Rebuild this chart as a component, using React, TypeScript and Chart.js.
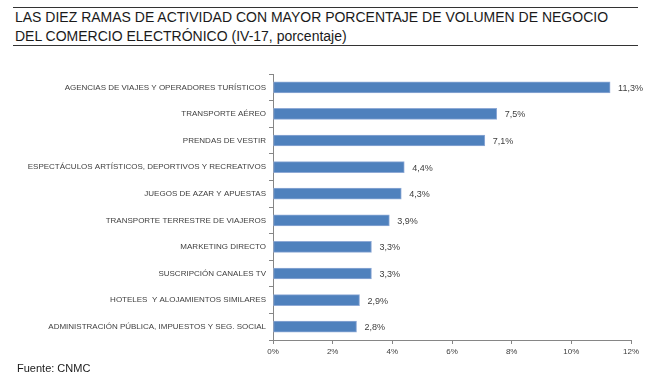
import React, { useEffect, useRef } from "react";
import { Chart, registerables } from "chart.js";

Chart.register(...registerables);

const categories = [
  "AGENCIAS DE VIAJES Y OPERADORES TURÍSTICOS",
  "TRANSPORTE AÉREO",
  "PRENDAS DE VESTIR",
  "ESPECTÁCULOS ARTÍSTICOS, DEPORTIVOS Y RECREATIVOS",
  "JUEGOS DE AZAR Y APUESTAS",
  "TRANSPORTE TERRESTRE DE VIAJEROS",
  "MARKETING DIRECTO",
  "SUSCRIPCIÓN CANALES TV",
  "HOTELES  Y ALOJAMIENTOS SIMILARES",
  "ADMINISTRACIÓN PÚBLICA, IMPUESTOS Y SEG. SOCIAL",
];
const values = [11.3, 7.5, 7.1, 4.4, 4.3, 3.9, 3.3, 3.3, 2.9, 2.8];
const xMin = 0;
const xMax = 12;
const xStep = 2;
const titleLines = [
  "LAS DIEZ RAMAS DE ACTIVIDAD CON MAYOR PORCENTAJE DE VOLUMEN DE NEGOCIO",
  "DEL COMERCIO ELECTRÓNICO (IV-17, porcentaje)",
];
const sourceText = "Fuente: CNMC";

const FONT = "'Liberation Sans', Arial, sans-serif";
const AXIS = "#868686";
const TEXT = "#404040";

const fmt = (v: number) => v.toFixed(1).replace(".", ",") + "%";

const valueLabels = {
  id: "valueLabels",
  afterDatasetsDraw(chart: any) {
    const ctx = chart.ctx;
    const meta = chart.getDatasetMeta(0);
    ctx.save();
    ctx.font = `9px ${FONT}`;
    ctx.fillStyle = TEXT;
    ctx.textAlign = "left";
    ctx.textBaseline = "middle";
    meta.data.forEach((bar: any, i: number) => {
      ctx.fillText(fmt(values[i]), bar.x + 8, bar.y + 1);
    });
    ctx.restore();
  },
};

export default function App() {
  const ref = useRef<HTMLCanvasElement | null>(null);

  useEffect(() => {
    if (!ref.current) return;
    const chart = new Chart(ref.current, {
      type: "bar",
      data: {
        labels: categories,
        datasets: [
          {
            data: values,
            backgroundColor: "#4F81BD",
            borderColor: "#8FAAD6",
            borderWidth: 1,
            borderSkipped: false,
            barThickness: 11,
          },
        ],
      },
      options: {
        indexAxis: "y",
        responsive: false,
        animation: false,
        devicePixelRatio: 1,
        layout: { padding: { top: 74, right: 19, bottom: 17, left: 0 } },
        plugins: {
          legend: { display: false },
          tooltip: { enabled: false },
          title: { display: false },
        },
        scales: {
          x: {
            min: xMin,
            max: xMax,
            ticks: {
              stepSize: xStep,
              callback: (v: any) => `${v}%`,
              font: { family: FONT, size: 8 },
              color: TEXT,
              padding: 3,
              maxRotation: 0,
            },
            grid: {
              display: true,
              drawOnChartArea: false,
              drawTicks: true,
              tickLength: 4,
              color: AXIS,
            },
            border: { display: true, color: AXIS, width: 1 },
            afterFit: (s: any) => {
              s.height = 20;
            },
          },
          y: {
            ticks: {
              font: { family: FONT, size: 8 },
              color: TEXT,
              padding: 3,
              autoSkip: false,
            },
            grid: {
              display: true,
              drawOnChartArea: false,
              drawTicks: true,
              tickLength: 4,
              offset: true,
              color: AXIS,
            },
            border: { display: true, color: AXIS, width: 1 },
            afterFit: (s: any) => {
              s.width = 273;
            },
          },
        },
      },
      plugins: [valueLabels],
    });
    return () => chart.destroy();
  }, []);

  return (
    <div
      style={{
        position: "fixed",
        left: 0,
        top: 0,
        width: 650,
        height: 377,
        background: "#fff",
        fontFamily: FONT,
      }}
    >
      <div
        style={{
          position: "absolute",
          left: 13,
          top: 7,
          width: 625,
          height: 39,
          borderTop: "1px solid #333",
          borderBottom: "1px solid #333",
          boxSizing: "border-box",
        }}
      />
      <div
        style={{
          position: "absolute",
          left: 15,
          top: 8,
          fontSize: 14,
          lineHeight: "19px",
          color: "#1a1a1a",
          whiteSpace: "nowrap",
        }}
      >
        {titleLines.map((t, i) => (
          <div key={i}>{t}</div>
        ))}
      </div>
      <canvas
        ref={ref}
        width={650}
        height={377}
        style={{ position: "absolute", left: 0, top: 0 }}
      />
      <div
        style={{
          position: "absolute",
          left: 17,
          top: 361,
          fontSize: 11,
          lineHeight: "14px",
          color: "#1a1a1a",
          whiteSpace: "nowrap",
        }}
      >
        {sourceText}
      </div>
    </div>
  );
}
